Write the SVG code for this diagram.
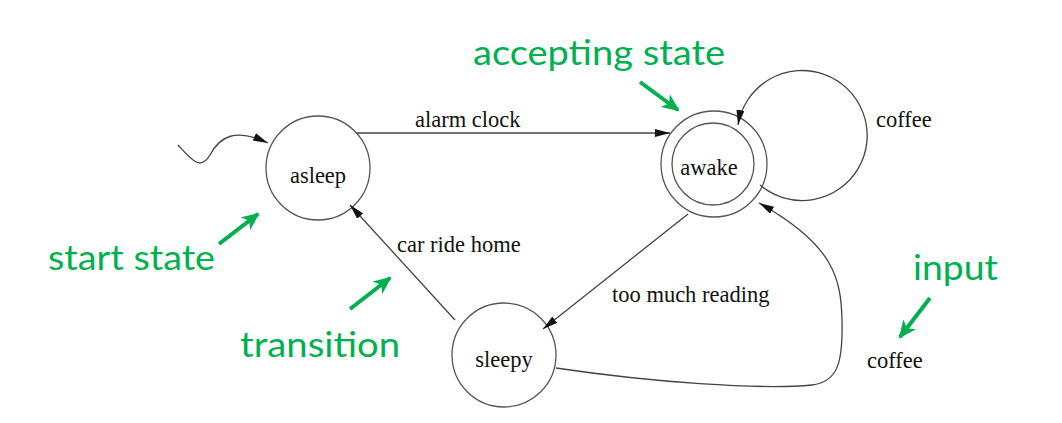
<svg xmlns="http://www.w3.org/2000/svg" width="1062" height="423" viewBox="0 0 1062 423">
<defs>
<style>
.st{fill:none;stroke:#555;stroke-width:1.3}
.ed{fill:none;stroke:#444;stroke-width:1.3}
.lb{font-family:"Liberation Serif","Times New Roman",serif;font-size:22.5px;fill:#111}
.gn{font-family:Lato,"Open Sans",sans-serif;font-size:34px;fill:#00B050}
.ga{fill:none;stroke:#00B050;stroke-width:4}
</style>
<marker id="ah" markerUnits="userSpaceOnUse" markerWidth="15" markerHeight="8" viewBox="0 0 15 8" refX="15" refY="4" orient="auto">
<path d="M0,0 L15,4 L0,8 z" fill="#111"/>
</marker>
<marker id="gh" markerUnits="userSpaceOnUse" markerWidth="18" markerHeight="16" viewBox="0 0 18 16" refX="16" refY="8" orient="auto">
<path d="M0,0 L18,8 L0,16 L5,8 z" fill="#00B050"/>
</marker>
</defs>
<rect width="1062" height="423" fill="#fff"/>
<g id="asleep">
<circle class="st" cx="318" cy="168" r="52"/>
<text class="lb" x="318" y="183" text-anchor="middle">asleep</text>
</g>
<g id="awake">
<circle class="st" cx="714" cy="164" r="53"/>
<circle class="st" cx="713" cy="164" r="41"/>
<text class="lb" x="709" y="175" text-anchor="middle">awake</text>
</g>
<g id="sleepy">
<circle class="st" cx="504" cy="355" r="52"/>
<text class="lb" x="504" y="367" text-anchor="middle">sleepy</text>
</g>
<g id="connectors">
<path class="ed" d="M178,145 C190,158 200,172 210,155 C220,136 235,128 268,143" marker-end="url(#ah)"/>
<path class="ed" d="M356,133 L670,133" marker-end="url(#ah)"/>
<path class="ed" d="M760,185 A65,65 0 1 0 738,125" marker-end="url(#ah)"/>
<path class="ed" d="M688,214 L543,329" marker-end="url(#ah)"/>
<path class="ed" d="M455,320 L350,205" marker-end="url(#ah)"/>
<path class="ed" d="M556,368 C650,382 760,390 812,385 C838,382 843,362 842,320 C841,280 835,245 759,203" marker-end="url(#ah)"/>
</g>
<g id="labels">
<text class="lb" x="415" y="127">alarm clock</text>
<text class="lb" x="876" y="127">coffee</text>
<text class="lb" x="397" y="252">car ride home</text>
<text class="lb" x="612" y="302">too much reading</text>
<text class="lb" x="867" y="368">coffee</text>
</g>
<g id="annotations">
<text class="gn" x="473" y="65" textLength="252" lengthAdjust="spacingAndGlyphs">accepting state</text>
<text class="gn" x="48" y="270" textLength="167" lengthAdjust="spacingAndGlyphs">start state</text>
<text class="gn" x="240" y="357" textLength="160" lengthAdjust="spacingAndGlyphs">transition</text>
<text class="gn" x="913" y="280" textLength="85" lengthAdjust="spacingAndGlyphs">input</text>
<path class="ga" d="M640,82 L678,110" marker-end="url(#gh)"/>
<path class="ga" d="M219,244 L258,214" marker-end="url(#gh)"/>
<path class="ga" d="M350,309 L390,278" marker-end="url(#gh)"/>
<path class="ga" d="M930,298 L900,337" marker-end="url(#gh)"/>
</g>
</svg>
